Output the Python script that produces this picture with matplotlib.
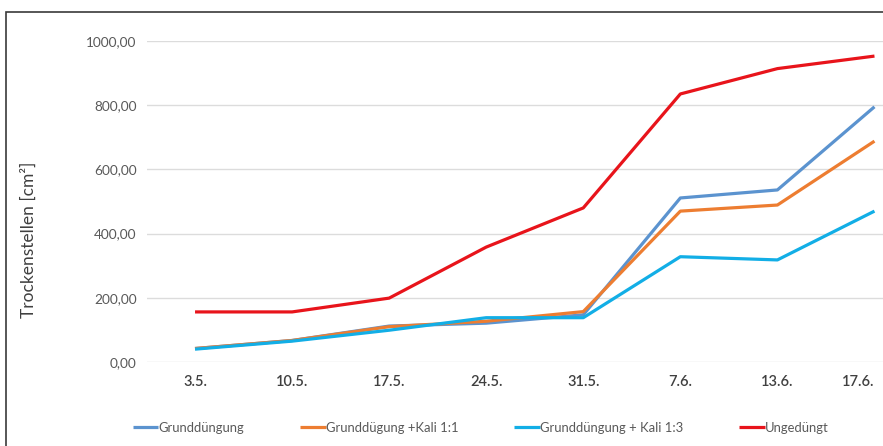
import matplotlib
matplotlib.use("Agg")
import matplotlib.pyplot as plt
import matplotlib.ticker as ticker
import matplotlib.transforms as mtransforms
from matplotlib.patches import Rectangle

plt.rcParams['font.family'] = ['Lato', 'DejaVu Sans']

# category labels (dates)
dates = ["3.5.", "10.5.", "17.5.", "24.5.", "31.5.", "7.6.", "13.6.", "17.6."]

# Trockenstellen [cm²] per treatment
grund = [42, 67, 112, 121, 147, 511, 536, 795]
grund_kali_11 = [42, 67, 110, 127, 157, 470, 489, 688]
grund_kali_13 = [40, 65, 99, 138, 138, 328, 318, 470]
ungeduengt = [156, 156, 199, 358, 480, 835, 914, 953]

series = [
    ("Grunddüngung", grund, "#5B93CF"),
    ("Grunddügung +Kali 1:1", grund_kali_11, "#ED7D31"),
    ("Grunddüngung + Kali 1:3", grund_kali_13, "#12AEE6"),
    ("Ungedüngt", ungeduengt, "#E8141B"),
]

W, H = 883, 446
fig = plt.figure(figsize=(W / 100, H / 100), dpi=100)
fig.patch.set_facecolor("white")

# plot area is wider than the image: the right edge is cropped
left_px, right_px, top_px, bottom_px = 146.5, 923.0, 41.0, 362.0
ax = fig.add_axes([left_px / W, 1 - bottom_px / H,
                   (right_px - left_px) / W, (bottom_px - top_px) / H])

x = list(range(len(dates)))
for label, vals, color in series:
    ax.plot(x, vals, color=color, linewidth=2.3, label=label,
            solid_joinstyle="round", solid_capstyle="butt")

ax.set_xlim(-0.5, len(dates) - 0.5)
ax.set_ylim(0, 1000)
ax.set_xticks(x)
ax.set_xticklabels(dates, fontsize=10.5, color="#404040", fontweight="semibold")
# last label is pulled inside the (cropped) picture
last = ax.get_xticklabels()[-1]
last.set_horizontalalignment("right")
last.set_transform(last.get_transform() +
                   mtransforms.ScaledTranslation(4 / 100, 0, fig.dpi_scale_trans))

ax.yaxis.set_major_locator(ticker.MultipleLocator(200))
ax.yaxis.set_major_formatter(ticker.FuncFormatter(lambda v, p: f"{v:.2f}".replace(".", ",")))
ax.tick_params(axis="y", length=0, pad=7, labelsize=9.8, labelcolor="#595959")
ax.tick_params(axis="x", length=0, pad=9)
ax.grid(axis="y", color="#DCDCDC", linewidth=1)
ax.set_axisbelow(True)
for s in ax.spines.values():
    s.set_visible(False)

ax.set_ylabel("Trockenstellen [cm²]", fontsize=12.5, color="#404040")
ax.yaxis.set_label_coords((37 - left_px) / (right_px - left_px),
                          (bottom_px - 240) / (bottom_px - top_px))

fig.legend(loc="center left", bbox_to_anchor=(121 / W, 1 - 428 / H), ncol=4,
           frameon=False, fontsize=9.4, labelcolor="#595959",
           handlelength=1.95, handletextpad=0.0, columnspacing=4.3)

# outer frame (cropped at right and bottom)
fig.patches.append(Rectangle((6 / W, -0.1), 1.2, 1 - 12 / H + 0.1,
                             transform=fig.transFigure, fill=False,
                             edgecolor="#3A3A3A", linewidth=1.2))

fig.savefig("out.png", dpi=100)
